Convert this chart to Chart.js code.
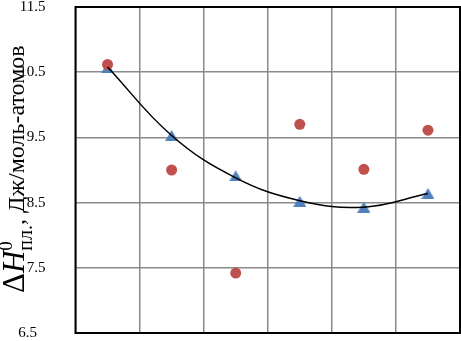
<!DOCTYPE html>
<html>
<head>
<meta charset="utf-8">
<script src="https://cdn.jsdelivr.net/npm/chart.js@4/dist/chart.umd.min.js"></script>
<style>
html,body{margin:0;padding:0;background:#fff;}
canvas{display:block;}
</style>
</head>
<body>
<canvas id="c" width="461" height="341"></canvas>
<script>
const categories = ['1','2','3','4','5','6'];
const circleValues = [10.62, 9.00, 7.42, 9.70, 9.01, 9.61];
const triangleValues = [10.57, 9.53, 8.91, 8.52, 8.43, 8.64];
const trendValues = [10.58, 9.53, 8.88, 8.53, 8.43, 8.64];
const yTicks = [6.5, 7.5, 8.5, 9.5, 10.5, 11.5];

// triangle marker image (centred bounding box like Excel)
function triImg(w, h, color) {
  const c = document.createElement('canvas');
  c.width = w; c.height = h;
  const g = c.getContext('2d');
  g.fillStyle = color;
  g.beginPath();
  g.moveTo(w/2, 0);
  g.lineTo(w, h);
  g.lineTo(0, h);
  g.closePath();
  g.fill();
  return c;
}
const tri = triImg(13, 11, '#4F81BD');

const SERIF = '"Liberation Serif", "Times New Roman", serif';

const titlePlugin = {
  id: 'yTitle',
  afterDraw(chart) {
    const ctx = chart.ctx;
    const a = chart.chartArea;
    const ys = chart.scales.y;
    ctx.save();
    // plot border
    ctx.strokeStyle = '#000';
    ctx.lineWidth = 2;
    ctx.strokeRect(a.left, a.top, a.right - a.left, a.bottom - a.top);
    // lowest tick label (shifted left as in the original)
    ctx.fillStyle = '#000';
    ctx.font = '15px ' + SERIF;
    ctx.textAlign = 'right';
    ctx.textBaseline = 'middle';
    ctx.fillText(yTicks[0].toFixed(1), 37, Math.min(ys.getPixelForValue(yTicks[0]), 333));
    // rotated title
    const baseX = 24, startY = 293;
    ctx.translate(baseX, startY);
    ctx.rotate(-Math.PI/2);
    ctx.textBaseline = 'alphabetic';
    ctx.textAlign = 'left';
    let x = 0;
    const seg = (t, font, dy) => {
      ctx.font = font;
      ctx.fillText(t, x, dy);
      x += ctx.measureText(t).width;
    };
    seg('Δ', '31px ' + SERIF, 0);
    seg('H', 'italic 31px ' + SERIF, 0);
    const xs = x;
    seg('0', '19px ' + SERIF, -12);
    x = xs;
    seg('пл.', '20px ' + SERIF, 8);
    seg(',', '24px ' + SERIF, 0);
    seg(' Дж/моль-атомов', '24px ' + SERIF, 0);
    ctx.restore();
  }
};

new Chart(document.getElementById('c'), {
  type: 'line',
  data: {
    labels: categories,
    datasets: [
      {
        label: 'trend',
        data: trendValues,
        borderColor: '#000',
        borderWidth: 1.5,
        pointRadius: 0,
        fill: false,
        tension: 0.4,
        order: 0
      },
      {
        label: 'circles',
        data: circleValues,
        showLine: false,
        pointStyle: 'circle',
        pointRadius: 5.5,
        pointBackgroundColor: '#C0504D',
        pointBorderColor: '#C0504D',
        pointBorderWidth: 0,
        order: 1
      },
      {
        label: 'triangles',
        data: triangleValues,
        showLine: false,
        pointStyle: tri,
        pointRadius: 6,
        order: 2
      }
    ]
  },
  options: {
    responsive: false,
    animation: false,
    events: [],
    layout: { autoPadding: false, padding: { top: 7, right: 1, bottom: 8, left: 0 } },
    plugins: { legend: { display: false }, tooltip: { enabled: false } },
    scales: {
      x: {
        offset: true,
        grid: { offset: true, color: '#8a8a8a', lineWidth: 1.5, drawTicks: false },
        border: { display: false },
        ticks: { display: false },
        afterFit(s) { s.height = 0; s.paddingLeft = 0; s.paddingRight = 0; }
      },
      y: {
        min: 6.5,
        max: 11.5,
        afterFit(s) { s.width = 75.5; s.paddingTop = 0; s.paddingBottom = 0; },
        afterBuildTicks(s) { s.ticks = yTicks.map(v => ({ value: v })); },
        grid: { color: '#8a8a8a', lineWidth: 1.5, drawTicks: false },
        border: { display: false },
        ticks: {
          padding: 30,
          color: '#000',
          font: { family: SERIF, size: 15 },
          callback: v => (v === yTicks[0] ? '' : v.toFixed(1))
        }
      }
    }
  },
  plugins: [titlePlugin]
});
</script>
</body>
</html>
